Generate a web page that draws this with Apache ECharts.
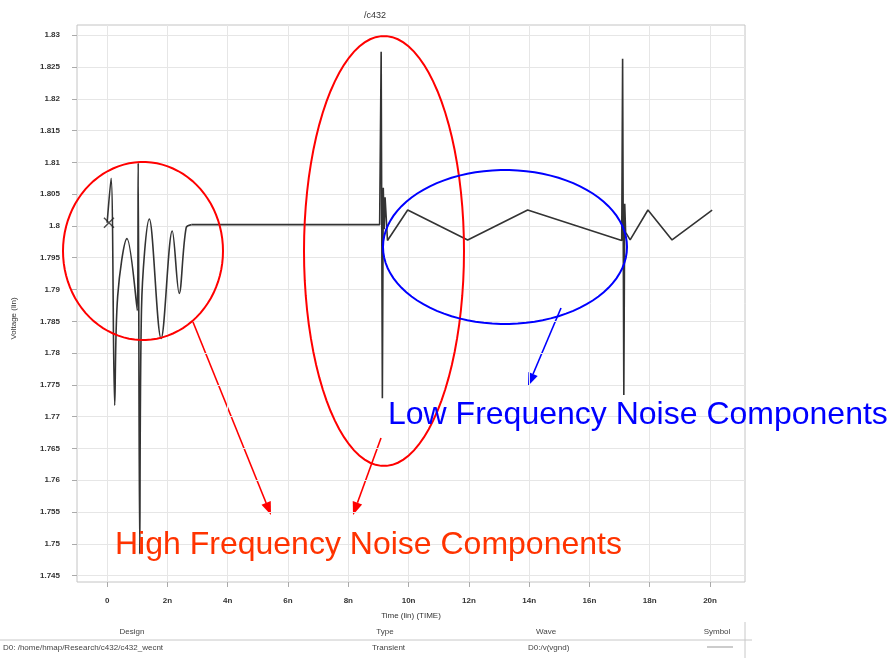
<!DOCTYPE html>
<html>
<head>
<meta charset="utf-8">
<title>c432</title>
<script src="https://cdn.jsdelivr.net/npm/echarts@6/dist/echarts.min.js"></script>
<style>
  html, body { margin: 0; padding: 0; background: #fff; }
  #chart { width: 893px; height: 658px; }
</style>
</head>
<body>
<div id="chart"></div>
<script>
// ringing right after the switch at t = 0 (time in ns, voltage in V)
const ringTime = [0, 0.13, 0.25, 0.35, 0.66, 1.0, 1.03, 1.08, 1.14, 1.4, 1.79, 2.16, 2.39, 2.62, 2.8];
const ringVolt = [1.8005, 1.8075, 1.7718, 1.789, 1.798, 1.7867, 1.8099, 1.7484, 1.787, 1.8011, 1.7823, 1.7992, 1.7894, 1.7997, 1.8002];

// flat part, the two switching spikes and the slow saw-tooth
const waveTime = [2.8, 9.04, 9.09, 9.13, 9.16, 9.19, 9.22, 9.3, 9.97, 11.96, 13.95, 17.07, 17.1, 17.14, 17.17, 17.2, 17.35, 17.94, 18.74, 20.07];
const waveVolt = [1.8002, 1.8002, 1.8274, 1.7729, 1.806, 1.7995, 1.8045, 1.7977, 1.8025, 1.7978, 1.8025, 1.7977, 1.8263, 1.7734, 1.8035, 1.799, 1.7978, 1.8025, 1.7978, 1.8025];

// cursor cross at the start
const markerTime = [0.06];
const markerVolt = [1.8005];

const xTickValues = [0, 2, 4, 6, 8, 10, 12, 14, 16, 18, 20];
const xTickLabels = ['0', '2n', '4n', '6n', '8n', '10n', '12n', '14n', '16n', '18n', '20n'];
const yTickValues = [1.83, 1.825, 1.82, 1.815, 1.81, 1.805, 1.8, 1.795, 1.79, 1.785,
  1.78, 1.775, 1.77, 1.765, 1.76, 1.755, 1.75, 1.745];
const yTickLabels = ['1.83', '1.825', '1.82', '1.815', '1.81', '1.805', '1.8', '1.795', '1.79', '1.785',
  '1.78', '1.775', '1.77', '1.765', '1.76', '1.755', '1.75', '1.745'];

const zip = (a, b) => a.map((v, i) => [v, b[i]]);
const lookup = (values, labels) => v => {
  const i = values.findIndex(t => Math.abs(t - v) < 1e-6);
  return i < 0 ? '' : labels[i];
};

function ellipse(cx, cy, rx, ry, color) {
  const pts = [];
  for (let i = 0; i < 90; i++) {
    const a = i / 90 * Math.PI * 2;
    pts.push([cx + rx * Math.cos(a), cy + ry * Math.sin(a)]);
  }
  return {
    type: 'polygon', z: 100, silent: true,
    shape: { points: pts },
    style: { fill: 'none', stroke: color, lineWidth: 2 }
  };
}

function arrow(x1, y1, x2, y2, color) {
  const len = Math.hypot(x2 - x1, y2 - y1);
  const dx = (x2 - x1) / len, dy = (y2 - y1) / len;
  const bx = x2 - dx * 13, by = y2 - dy * 13;
  return {
    type: 'group', z: 100, silent: true,
    children: [
      { type: 'line', shape: { x1, y1, x2: bx, y2: by }, style: { stroke: color, lineWidth: 1.6 } },
      {
        type: 'polygon',
        shape: { points: [[x2, y2], [bx - dy * 5, by + dx * 5], [bx + dy * 5, by - dx * 5]] },
        style: { fill: color }
      }
    ]
  };
}

function label(text, x, y, align, size, color) {
  return {
    type: 'text', z: 100, silent: true, x, y,
    style: {
      text, fill: color || '#444', align: align || 'left', verticalAlign: 'middle',
      font: (size || 8) + 'px "Liberation Sans", Arial, sans-serif'
    }
  };
}

const chart = echarts.init(document.getElementById('chart'), null, { renderer: 'canvas' });

chart.setOption({
  animation: false,
  backgroundColor: '#fff',
  grid: {
    left: 77, right: 148, top: 25, bottom: 76,
    show: true, borderColor: '#c4c4c4', borderWidth: 1
  },
  xAxis: {
    type: 'value',
    min: -1, max: 21.16,
    name: 'Time (lin) (TIME)',
    nameLocation: 'middle', nameGap: 30,
    nameTextStyle: { fontSize: 8, color: '#333', fontFamily: 'Liberation Sans' },
    axisLine: { show: false, onZero: false },
    axisTick: { customValues: xTickValues, length: 5, lineStyle: { color: '#aaa' } },
    axisLabel: {
      customValues: xTickValues, formatter: lookup(xTickValues, xTickLabels),
      margin: 15, fontSize: 8, fontWeight: 'bold', color: '#333', fontFamily: 'Liberation Sans'
    },
    splitLine: { show: true, lineStyle: { color: '#e6e6e6', width: 1 } }
  },
  yAxis: {
    type: 'value',
    min: 1.744, max: 1.8316,
    name: 'Voltage (lin)',
    nameLocation: 'middle', nameGap: 59,
    nameTextStyle: { fontSize: 8, color: '#333', fontFamily: 'Liberation Sans', padding: [0, 0, 0, -30] },
    axisLine: { show: false, onZero: false },
    axisTick: { customValues: yTickValues, length: 5, lineStyle: { color: '#aaa' } },
    axisLabel: {
      customValues: yTickValues, formatter: lookup(yTickValues, yTickLabels),
      margin: 17, fontSize: 8, fontWeight: 'bold', color: '#333', fontFamily: 'Liberation Sans'
    },
    splitLine: { show: true, lineStyle: { color: '#e6e6e6', width: 1 } }
  },
  series: [
    {
      type: 'line', name: 'ringing', data: zip(ringTime, ringVolt),
      smooth: 0.35, showSymbol: false, z: 3,
      lineStyle: { color: '#333', width: 1.6 }
    },
    {
      type: 'line', name: 'wave', data: zip(waveTime, waveVolt),
      showSymbol: false, z: 3,
      lineStyle: { color: '#333', width: 1.6 }
    },
    {
      type: 'scatter', name: 'cursor', data: zip(markerTime, markerVolt),
      symbol: 'path://M0,0L10,10M10,0L0,10', symbolSize: 10, z: 4,
      itemStyle: { color: 'transparent', borderColor: '#222', borderWidth: 1.4 }
    }
  ],
  graphic: [
    label('/c432', 375, 16, 'center', 9, '#333'),
    // annotation ellipses and arrows
    ellipse(143, 251, 80, 89, '#ff0000'),
    ellipse(384, 251, 80, 215, '#ff0000'),
    ellipse(505, 247, 122, 77, '#0000ff'),
    arrow(193, 322, 271, 515, '#ff0000'),
    arrow(381, 438, 353, 515, '#ff0000'),
    arrow(561, 308, 528, 386, '#0000ff'),
    label('Low Frequency Noise Components', 388, 415, 'left', 32, '#0000ff'),
    label('High Frequency Noise Components', 115, 545, 'left', 32, '#ff3300'),
    // legend table under the plot
    label('Design', 132, 632, 'center'),
    label('Type', 385, 632, 'center'),
    label('Wave', 546, 632, 'center'),
    label('Symbol', 717, 632, 'center'),
    { type: 'line', z: 100, silent: true, shape: { x1: 0, y1: 640, x2: 752, y2: 640 }, style: { stroke: '#c8c8c8', lineWidth: 1 } },
    { type: 'line', z: 100, silent: true, shape: { x1: 745, y1: 622, x2: 745, y2: 658 }, style: { stroke: '#c8c8c8', lineWidth: 1 } },
    label('D0: /home/hmap/Research/c432/c432_wecnt', 3, 648, 'left'),
    label('Transient', 372, 648, 'left'),
    label('D0:/v(vgnd)', 528, 648, 'left'),
    { type: 'line', z: 100, silent: true, shape: { x1: 707, y1: 647, x2: 733, y2: 647 }, style: { stroke: '#999', lineWidth: 1 } }
  ]
});
</script>
</body>
</html>
